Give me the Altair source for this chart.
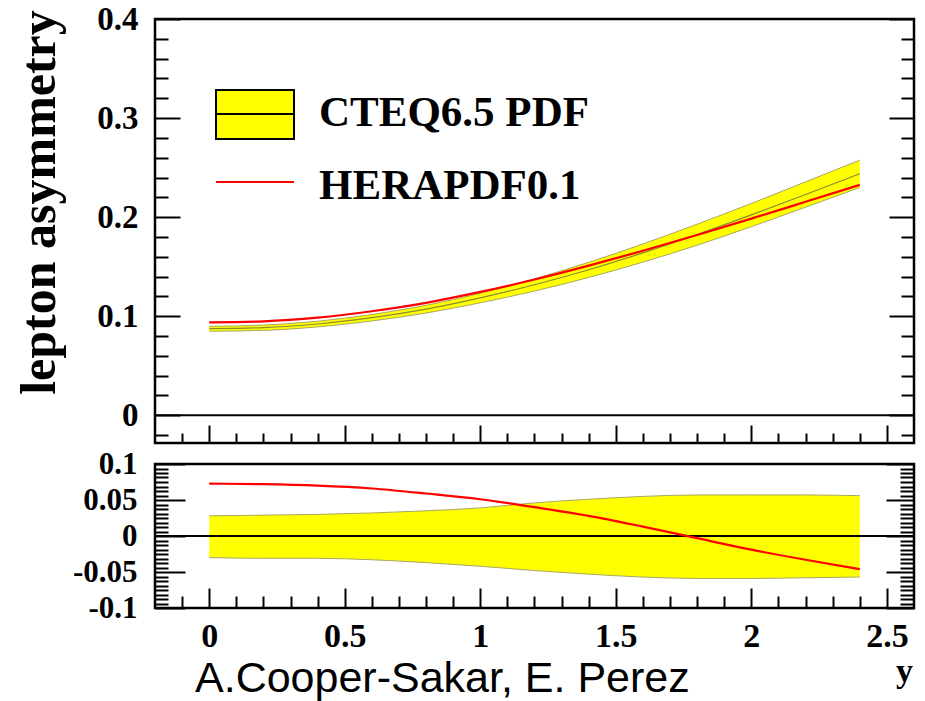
import altair as alt
import pandas as pd

# ---------------- data ----------------
rapidity = [0.0, 0.2, 0.4, 0.6, 0.8, 1.0, 1.2, 1.4, 1.6, 1.8, 2.0, 2.2, 2.4]

# upper panel: lepton asymmetry
cteq_central = [0.0874, 0.0884, 0.0921, 0.0985, 0.1072, 0.1185, 0.1317, 0.1469, 0.1639, 0.1825, 0.2023, 0.2229, 0.2438]
cteq_low = [0.0848, 0.0857, 0.0892, 0.0952, 0.1032, 0.1135, 0.1254, 0.1391, 0.1546, 0.1717, 0.1904, 0.2100, 0.2299]
cteq_high = [0.0898, 0.0910, 0.0949, 0.1017, 0.1110, 0.1231, 0.1378, 0.1544, 0.1729, 0.1929, 0.2138, 0.2356, 0.2575]
herapdf = [0.0938, 0.0948, 0.0985, 0.1050, 0.1135, 0.1245, 0.1370, 0.1510, 0.1660, 0.1820, 0.1985, 0.2155, 0.2326]

# lower panel: relative difference to CTEQ6.5
ratio_band_low = [-0.030, -0.031, -0.031, -0.033, -0.037, -0.042, -0.048, -0.053, -0.057, -0.059, -0.059, -0.058, -0.057]
ratio_band_high = [0.028, 0.029, 0.030, 0.032, 0.035, 0.039, 0.046, 0.051, 0.055, 0.057, 0.057, 0.057, 0.056]
ratio_herapdf = [0.0727, 0.072, 0.070, 0.066, 0.059, 0.051, 0.040, 0.028, 0.013, -0.003, -0.019, -0.033, -0.046]

legend_labels = ["CTEQ6.5 PDF", "HERAPDF0.1"]
y_title = "lepton asymmetry"
x_title = "y"
credit = "A.Cooper-Sakar, E. Perez"

x_major_ticks = [0, 0.5, 1, 1.5, 2, 2.5]
x_minor_ticks = [-0.1, 0.1, 0.2, 0.3, 0.4, 0.6, 0.7, 0.8, 0.9, 1.1, 1.2, 1.3, 1.4,
                 1.6, 1.7, 1.8, 1.9, 2.1, 2.2, 2.3, 2.4]
top_y_major = [0, 0.1, 0.2, 0.3, 0.4]
top_y_minor = [-0.02, 0.02, 0.04, 0.06, 0.08, 0.12, 0.14, 0.16, 0.18, 0.22, 0.24,
               0.26, 0.28, 0.32, 0.34, 0.36, 0.38]
low_y_major = [-0.1, -0.05, 0, 0.05, 0.1]
low_y_minor = [round(k * 0.00625, 5) for k in range(-15, 16) if k % 8 != 0]

top_df = pd.DataFrame(dict(rap=rapidity, central=cteq_central, lo=cteq_low, hi=cteq_high, hera=herapdf))
low_df = pd.DataFrame(dict(rap=rapidity, lo=ratio_band_low, hi=ratio_band_high, hera=ratio_herapdf))
zero_df = pd.DataFrame({"v": [0.0]})
one = pd.DataFrame({"k": [0]})

# ---------------- styling ----------------
W = 759
H_TOP = 424
H_LOW = 144
SERIF = "Liberation Serif"
SANS = "Liberation Sans"
YELLOW = "#ffff00"
EDGE = "#a8a860"
OLIVE = "#8a8a3a"
RED = "#ff0000"


def ax(values, size, orient, labels=False, **kw):
    d = dict(values=values, orient=orient, tickSize=size, offset=-size, labels=labels,
             domain=False, grid=False, ticks=True, tickColor="black", tickWidth=2)
    if labels:
        d.update(labelExpr="toString(datum.value)", labelFont=SERIF, labelFontWeight="bold",
                 labelColor="black", labelFlush=False, labelOverlap=False, labelBound=False)
    d.update(kw)
    return alt.Axis(**d)


xs = alt.Scale(domain=[-0.2, 2.6], nice=False, zero=False)
yt = alt.Scale(domain=[-0.028, 0.4], nice=False, zero=False)
yl = alt.Scale(domain=[-0.1, 0.1], nice=False, zero=False)

# ---------------- upper panel ----------------
tb = alt.Chart(top_df)
t_band = tb.mark_area(color=YELLOW, interpolate="monotone").encode(
    x=alt.X("rap:Q", scale=xs, title=None, axis=ax(x_major_ticks, 18, "bottom")),
    y=alt.Y("lo:Q", scale=yt, title=y_title,
            axis=ax(top_y_major, 25, "left", labels=True, labelFontSize=33, labelPadding=17,
                    titleFont=SERIF, titleFontWeight="bold", titleFontSize=50, titleColor="black",
                    titleAngle=270, titleAlign="center", titleBaseline="alphabetic",
                    titleX=-126, titleY=183)),
    y2="hi:Q",
)
t_lo = tb.mark_line(color=EDGE, strokeWidth=1, interpolate="monotone").encode(
    x=alt.X("rap:Q", scale=xs, title=None, axis=ax(x_minor_ticks, 10, "bottom")),
    y=alt.Y("lo:Q", scale=yt, title=None, axis=ax(top_y_minor, 13, "left")),
)
t_hi = tb.mark_line(color=EDGE, strokeWidth=1, interpolate="monotone").encode(
    x=alt.X("rap:Q", scale=xs, axis=None),
    y=alt.Y("hi:Q", scale=yt, title=None, axis=ax(top_y_major, 25, "right")),
)
t_c = tb.mark_line(color=OLIVE, strokeWidth=1.2, interpolate="monotone").encode(
    x=alt.X("rap:Q", scale=xs, axis=None),
    y=alt.Y("central:Q", scale=yt, title=None, axis=ax(top_y_minor, 13, "right")),
)
t_hera = tb.mark_line(color=RED, strokeWidth=2.2, interpolate="monotone").encode(
    x=alt.X("rap:Q", scale=xs, axis=None),
    y=alt.Y("hera:Q", scale=yt, axis=None),
)
t_zero = alt.Chart(zero_df).mark_rule(color="black", strokeWidth=2).encode(
    y=alt.Y("v:Q", scale=yt, axis=None)
)
leg_box = alt.Chart(one).mark_rect(fill=YELLOW, stroke="black", strokeWidth=2).encode(
    x=alt.value(61), x2=alt.value(139), y=alt.value(71), y2=alt.value(120)
)
leg_mid = alt.Chart(one).mark_rule(color="black", strokeWidth=2).encode(
    x=alt.value(61), x2=alt.value(139), y=alt.value(95)
)
leg_red = alt.Chart(one).mark_rule(color=RED, strokeWidth=2).encode(
    x=alt.value(61), x2=alt.value(139), y=alt.value(163)
)
leg_t1 = alt.Chart(one).mark_text(text=legend_labels[0], font=SERIF, fontWeight="bold", fontSize=43,
                                  align="left", baseline="alphabetic", color="black").encode(
    x=alt.value(164), y=alt.value(107)
)
leg_t2 = alt.Chart(one).mark_text(text=legend_labels[1], font=SERIF, fontWeight="bold", fontSize=43,
                                  align="left", baseline="alphabetic", color="black").encode(
    x=alt.value(164), y=alt.value(180)
)

top = alt.layer(t_band, t_lo, t_hi, t_c, t_hera, t_zero, leg_box, leg_mid, leg_red, leg_t1, leg_t2).resolve_axis(
    x="independent", y="independent"
).properties(width=W, height=H_TOP)

# ---------------- lower panel ----------------
lb = alt.Chart(low_df)
l_band = lb.mark_area(color=YELLOW, interpolate="monotone").encode(
    x=alt.X("rap:Q", scale=xs, title=x_title,
            axis=ax(x_major_ticks, 20, "bottom", labels=True, labelFontSize=34, labelPadding=11,
                    titleFont=SERIF, titleFontWeight="bold", titleFontSize=34, titleColor="black",
                    titleAlign="center", titleBaseline="alphabetic", titleX=749, titleY=93)),
    y=alt.Y("lo:Q", scale=yl, title=None,
            axis=ax(low_y_major, 30, "left", labels=True, labelFontSize=31, labelPadding=18)),
    y2="hi:Q",
)
l_lo = lb.mark_line(color=EDGE, strokeWidth=1, interpolate="monotone").encode(
    x=alt.X("rap:Q", scale=xs, title=None, axis=ax(x_minor_ticks, 12, "bottom")),
    y=alt.Y("lo:Q", scale=yl, title=None, axis=ax(low_y_minor, 13, "left")),
)
l_hi = lb.mark_line(color=EDGE, strokeWidth=1, interpolate="monotone").encode(
    x=alt.X("rap:Q", scale=xs, axis=None),
    y=alt.Y("hi:Q", scale=yl, title=None, axis=ax(low_y_major, 28, "right")),
)
l_zero = alt.Chart(zero_df).mark_rule(color="black", strokeWidth=2).encode(
    y=alt.Y("v:Q", scale=yl, title=None, axis=ax(low_y_minor, 14, "right"))
)
l_hera = lb.mark_line(color=RED, strokeWidth=2.2, interpolate="monotone").encode(
    x=alt.X("rap:Q", scale=xs, axis=None),
    y=alt.Y("hera:Q", scale=yl, axis=None),
)
l_credit = alt.Chart(one).mark_text(text=credit, font=SANS, fontSize=43, align="left",
                                    baseline="alphabetic", color="black").encode(
    x=alt.value(40), y=alt.value(228)
)

low = alt.layer(l_band, l_lo, l_hi, l_zero, l_hera, l_credit).resolve_axis(
    x="independent", y="independent"
).properties(width=W, height=H_LOW)

chart = alt.vconcat(top, low, spacing=21, bounds="flush").properties(
    background="white",
    padding={"left": 12, "top": 1, "right": 2, "bottom": 2},
).configure_view(stroke="black", strokeWidth=2.5)

chart.save("out.html", embed_options={"renderer": "svg", "actions": False})
